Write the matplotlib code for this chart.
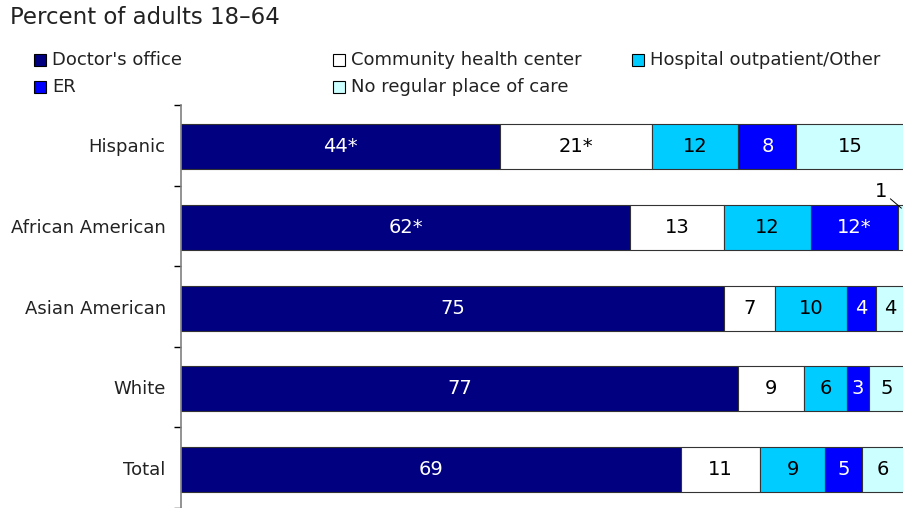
import numpy as np
import matplotlib.pyplot as plt
from matplotlib.patches import Rectangle

# ----------------------------------------------------------------------
# Data
# ----------------------------------------------------------------------
groups = ["Hispanic", "African American", "Asian American", "White", "Total"]
series = ["Doctor's office", "Community health center",
          "Hospital outpatient/Other", "ER", "No regular place of care"]
doctor = [44, 62, 75, 77, 69]
community = [21, 13, 7, 9, 11]
hospital = [12, 12, 10, 6, 9]
er = [8, 12, 4, 3, 5]
no_regular = [15, 1, 4, 5, 6]
# significance stars per (series, group)
stars = [[1, 1, 0, 0, 0],
         [1, 0, 0, 0, 0],
         [0, 0, 0, 0, 0],
         [0, 1, 0, 0, 0],
         [0, 0, 0, 0, 0]]

colors = ["#000080", "#FFFFFF", "#00CCFF", "#0000FF", "#CCFFFF"]
text_colors = ["white", "black", "black", "white", "black"]

plt.rcParams["font.family"] = ["DejaVu Sans"]

fig = plt.figure(figsize=(9.04, 5.08), dpi=100)
W, H = 904, 508
ax = fig.add_axes([181 / W, 0.0, (905 - 181) / W, (508 - 105) / H])

values = [doctor, community, hospital, er, no_regular]
y = np.arange(len(groups))
left = np.zeros(len(groups))
for i, (vals, col) in enumerate(zip(values, colors)):
    vals = np.array(vals, dtype=float)
    ax.barh(y + 0.02, vals, left=left, height=0.56, color=col,
            edgecolor="#333333", linewidth=0.8, label=series[i])
    for j, v in enumerate(vals):
        lab = f"{int(v)}" + ("*" if stars[i][j] else "")
        cx = left[j] + v / 2
        if v < 2:
            # tiny segment: label above with a leader line
            ax.annotate(lab, xy=(cx, y[j] - 0.22), xytext=(-20, 17),
                        textcoords="offset pixels", ha="center", va="center",
                        fontsize=14, color="black",
                        arrowprops=dict(arrowstyle="-", color="black",
                                        lw=0.7, shrinkA=0, shrinkB=0))
        else:
            ax.text(cx, y[j] + 0.02, lab, ha="center", va="center",
                    fontsize=14, color=text_colors[i])
    left += vals

ax.set_xlim(0, 100)
ax.set_ylim(len(groups) - 0.5, -0.5)
ax.set_yticks(y)
ax.set_yticklabels(groups, fontsize=13, color="#222222")
ax.set_yticks(np.arange(-0.5, len(groups) + 0.5, 1), minor=True)
ax.tick_params(axis="y", which="major", length=0, pad=11)
ax.tick_params(axis="y", which="minor", length=5, width=1, color="black")
ax.set_xticks([])
for s in ["top", "right", "bottom"]:
    ax.spines[s].set_visible(False)
ax.spines["left"].set_color("#808080")
ax.spines["left"].set_linewidth(1.2)

# title
fig.text(10 / W, 1 - 18 / H, "Percent of adults 18\u201364", fontsize=16.5,
         ha="left", va="center", color="#222222")

# legend (3 columns, row-major)
legend_pos = [(34, 60), (333, 60), (632, 60), (34, 87), (333, 87)]
for k, (px, py) in enumerate(legend_pos):
    fig.patches.append(Rectangle((px / W, 1 - (py + 6) / H), 12 / W, 12 / H,
                                 transform=fig.transFigure,
                                 facecolor=colors[k], edgecolor="black",
                                 linewidth=0.8))
    fig.text((px + 18) / W, 1 - py / H, series[k], fontsize=13,
             ha="left", va="center", color="#222222")

fig.savefig("out.png", dpi=100)
